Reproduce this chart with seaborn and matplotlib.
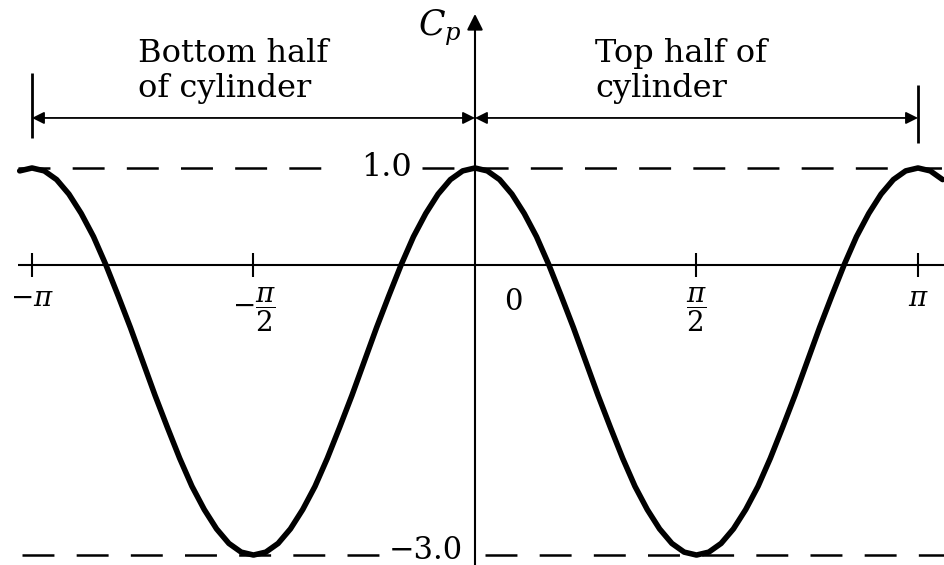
import numpy as np
import pandas as pd
import matplotlib
matplotlib.use("Agg")
import matplotlib.pyplot as plt
import seaborn as sns

# Pressure coefficient around a circular cylinder, sampled every 5 degrees
theta_deg = [
    -185, -180, -175, -170, -165, -160, -155, -150, -145, -140,
    -135, -130, -125, -120, -115, -110, -105, -100, -95, -90,
    -85, -80, -75, -70, -65, -60, -55, -50, -45, -40,
    -35, -30, -25, -20, -15, -10, -5, 0, 5, 10,
    15, 20, 25, 30, 35, 40, 45, 50, 55, 60,
    65, 70, 75, 80, 85, 90, 95, 100, 105, 110,
    115, 120, 125, 130, 135, 140, 145, 150, 155, 160,
    165, 170, 175, 180, 185, 190,
]
cp = [
    0.97, 1.00, 0.97, 0.88, 0.73, 0.53, 0.29, 0.00, -0.32, -0.65,
    -1.00, -1.35, -1.68, -2.00, -2.29, -2.53, -2.73, -2.88, -2.97, -3.00,
    -2.97, -2.88, -2.73, -2.53, -2.29, -2.00, -1.68, -1.35, -1.00, -0.65,
    -0.32, 0.00, 0.29, 0.53, 0.73, 0.88, 0.97, 1.00, 0.97, 0.88,
    0.73, 0.53, 0.29, 0.00, -0.32, -0.65, -1.00, -1.35, -1.68, -2.00,
    -2.29, -2.53, -2.73, -2.88, -2.97, -3.00, -2.97, -2.88, -2.73, -2.53,
    -2.29, -2.00, -1.68, -1.35, -1.00, -0.65, -0.32, 0.00, 0.29, 0.53,
    0.73, 0.88, 0.97, 1.00, 0.97, 0.88,
]

tick_values = [-np.pi, -np.pi / 2, np.pi / 2, np.pi]
tick_labels = [r"$-\pi$", r"$-\dfrac{\pi}{2}$", r"$\dfrac{\pi}{2}$", r"$\pi$"]
cp_levels = [1.0, -3.0]
bottom_label = "Bottom half\nof cylinder"
top_label = "Top half of\ncylinder"

sns.set_style("white")
plt.rcParams["font.family"] = ["DejaVu Serif"]
plt.rcParams["mathtext.fontset"] = "dejavuserif"
plt.rcParams["lines.scale_dashes"] = False
plt.rcParams["text.color"] = "black"
plt.rcParams["xtick.color"] = "black"

df = pd.DataFrame({"theta": np.deg2rad(theta_deg), "cp": cp})

fig = plt.figure(figsize=(9.44, 5.65), dpi=100)
ax = fig.add_axes([0, 0, 1, 1])
ax.set_xlim(-3.3685, 3.326)
ax.set_ylim(-3.103, 2.736)
for s in ax.spines.values():
    s.set_visible(False)

# Cp curve
sns.lineplot(data=df, x="theta", y="cp", ax=ax, color="black", lw=4.0,
             solid_capstyle="round", solid_joinstyle="round", zorder=5)
ax.set_xlabel("")
ax.set_ylabel("")

# horizontal theta axis with crossing ticks
ax.hlines(0, -3.241, 3.4, color="black", lw=1.5)
ax.spines["bottom"].set_position(("data", 0))
ax.set_xticks(tick_values)
ax.set_xticklabels(tick_labels, fontsize=20)
ax.tick_params(axis="x", direction="inout", length=17, width=1.5,
               pad=6, colors="black", bottom=True)
ax.set_yticks([])
ax.text(0.2695, -0.385, "0", fontsize=21, ha="center", va="center")

# vertical Cp axis with arrow
ax.annotate("", xy=(0, 2.592), xytext=(0, -3.3),
            arrowprops=dict(arrowstyle="-|>", lw=1.5, color="black",
                            mutation_scale=24, shrinkA=0, shrinkB=0))
ax.text(-0.092, 2.447, r"$C_p$", fontsize=25, ha="right", va="center")

# dashed reference levels with their values
dash = (0, (23, 16))
top, bottom = cp_levels
ax.hlines(top, -3.241, -0.95, color="black", lw=1.8, linestyles=[dash])
ax.hlines(top, -0.376, 3.4, color="black", lw=1.8, linestyles=[dash])
ax.text(-0.631, top, f"{top:.1f}", fontsize=23, ha="center", va="center")
ax.hlines(bottom, -3.2125, -0.674, color="black", lw=1.8, linestyles=[dash])
ax.hlines(bottom, 0.071, 3.4, color="black", lw=1.8, linestyles=[dash])
ax.text(-0.085, bottom + 0.05, f"{bottom:.1f}".replace("-", "\u2212"),
        fontsize=22, ha="right", va="center")

# half-cylinder spans
arrow_y = 1.517
span_kw = dict(arrowstyle="<|-|>", lw=1.3, color="black",
               mutation_scale=18, shrinkA=0, shrinkB=0)
ax.annotate("", xy=(-np.pi, arrow_y), xytext=(0, arrow_y), arrowprops=span_kw)
ax.annotate("", xy=(0, arrow_y), xytext=(np.pi, arrow_y), arrowprops=span_kw)
ax.vlines(-np.pi, 1.310, 1.982, color="black", lw=2)
ax.vlines(np.pi, 1.258, 1.858, color="black", lw=2)
ax.text(-2.390, 2.34, bottom_label, fontsize=23, ha="left", va="top",
        linespacing=1.15)
ax.text(0.851, 2.34, top_label, fontsize=23, ha="left", va="top",
        linespacing=1.15)

fig.savefig("out.png", dpi=100)
